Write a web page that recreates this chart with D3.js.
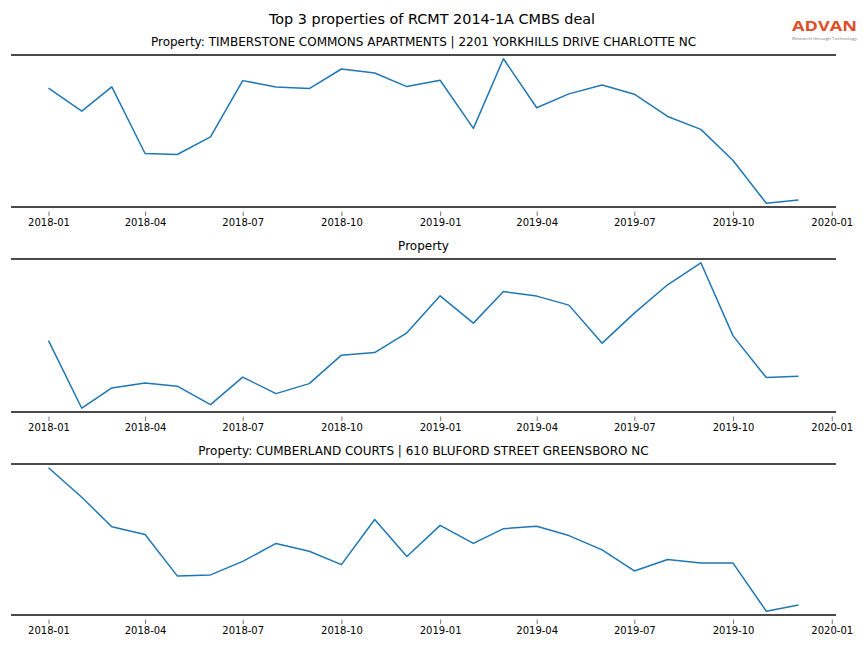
<!DOCTYPE html>
<html>
<head>
<meta charset="utf-8">
<script src="https://cdn.jsdelivr.net/npm/d3@7"></script>
<style>
  html, body { margin: 0; padding: 0; background: #fff; }
  svg { display: block; }
</style>
</head>
<body>
<svg id="chart" width="864" height="648"></svg>
<script>
// ---- Data ----
const months = ["2018-01","2018-02","2018-03","2018-04","2018-05","2018-06","2018-07","2018-08","2018-09","2018-10","2018-11","2018-12",
                "2019-01","2019-02","2019-03","2019-04","2019-05","2019-06","2019-07","2019-08","2019-09","2019-10","2019-11","2019-12"];
const tickLabels = ["2018-01","2018-04","2018-07","2018-10","2019-01","2019-04","2019-07","2019-10","2020-01"];

const titles = [
  "Property: TIMBERSTONE COMMONS APARTMENTS | 2201 YORKHILLS DRIVE CHARLOTTE NC",
  "Property",
  "Property: CUMBERLAND COURTS | 610 BLUFORD STREET GREENSBORO NC"
];
const mainTitle = "Top 3 properties of RCMT 2014-1A CMBS deal";

const timberstoneVisits = [118.7, 95.7, 120, 53, 52, 69.7, 126.3, 120, 118.3, 138, 134, 120.3,
                           126.7, 78.3, 148.3, 99, 113, 122, 112.7, 90.3, 77.3, 46, 3, 6.3];
const propertyVisits    = [71.3, 3.7, 24, 29, 25.7, 7.3, 34.7, 18.3, 28.3, 56.7, 59.3, 79,
                           116, 88.7, 120.3, 115.7, 106.7, 68.7, 98.7, 127, 149, 76, 34.3, 35.7];
const cumberlandVisits  = [148.3, 118.3, 88.3, 80.3, 38.3, 39.3, 53, 71.3, 63.3, 49.7, 95.7, 58,
                           89.7, 71.3, 86.3, 88.7, 79.3, 64.7, 43.3, 55, 51.3, 51.3, 2.3, 8.7];

const seriesList = [timberstoneVisits, propertyVisits, cumberlandVisits];

// ---- Layout ----
const W = 864, H = 648;
const axLeft = 11, axRight = 836;
const panels = [ {top: 55, bottom: 207}, {top: 259, bottom: 412}, {top: 464, bottom: 615} ];
const FONT = "'DejaVu Sans', sans-serif";
const parse = d3.timeParse("%Y-%m");
const dates = months.map(parse);

const svg = d3.select("#chart");

// x scale with 5% margins (matplotlib-like)
const t0 = dates[0].getTime(), t1 = dates[dates.length - 1].getTime();
const R = t1 - t0;
const x = d3.scaleTime()
  .domain([new Date(t0 - 0.05 * R), new Date(t1 + 0.05 * R)])
  .range([axLeft, axRight]);

// Main title
svg.append("text")
  .attr("x", W / 2).attr("y", 24)
  .attr("text-anchor", "middle")
  .attr("font-family", FONT).attr("font-size", 14.4)
  .attr("fill", "#000")
  .text(mainTitle);

// Logo
const logo = svg.append("g");
logo.append("text")
  .attr("x", 792).attr("y", 31)
  .attr("font-family", "'Open Sans', sans-serif")
  .attr("font-weight", 700)
  .attr("font-size", 14)
  .attr("textLength", 65).attr("lengthAdjust", "spacingAndGlyphs")
  .attr("fill", "#e04e28")
  .text("ADVAN");
logo.append("text")
  .attr("x", 792).attr("y", 40)
  .attr("font-family", "'Open Sans', sans-serif")
  .attr("font-size", 4.2)
  .attr("textLength", 65).attr("lengthAdjust", "spacingAndGlyphs")
  .attr("fill", "#777")
  .text("Research through Technology");

seriesList.forEach((vals, i) => {
  const p = panels[i];
  const ext = d3.extent(vals);
  const pad = (ext[1] - ext[0]) * 0.026;
  const y = d3.scaleLinear()
    .domain([ext[0] - pad, ext[1] + pad])
    .range([p.bottom, p.top]);

  const g = svg.append("g");

  // subplot title
  g.append("text")
    .attr("x", (axLeft + axRight) / 2).attr("y", p.top - 9)
    .attr("text-anchor", "middle")
    .attr("font-family", FONT).attr("font-size", 12)
    .attr("fill", "#000")
    .text(titles[i]);

  // line
  const line = d3.line()
    .x((d, j) => x(dates[j]))
    .y(d => y(d));
  g.append("path")
    .datum(vals)
    .attr("d", line)
    .attr("fill", "none")
    .attr("stroke", "#1f77b4")
    .attr("stroke-width", 1.5)
    .attr("stroke-linejoin", "round");

  // spines top / bottom
  [p.top, p.bottom].forEach(yy => {
    g.append("line")
      .attr("x1", axLeft).attr("x2", axRight)
      .attr("y1", yy).attr("y2", yy)
      .attr("stroke", "#4a4a4a").attr("stroke-width", 2);
  });

  // x axis
  const axis = d3.axisBottom(x)
    .tickValues(tickLabels.map(parse))
    .tickFormat(d3.timeFormat("%Y-%m"))
    .tickSizeInner(4.5).tickSizeOuter(0).tickPadding(3);
  const ax = g.append("g")
    .attr("transform", `translate(0,${p.bottom + 4.5})`)
    .call(axis);
  ax.select(".domain").remove();
  ax.selectAll(".tick line").attr("stroke", "#555").attr("stroke-width", 0.8);
  ax.selectAll(".tick text")
    .attr("font-family", FONT).attr("font-size", 10).attr("fill", "#000");
});
</script>
</body>
</html>
